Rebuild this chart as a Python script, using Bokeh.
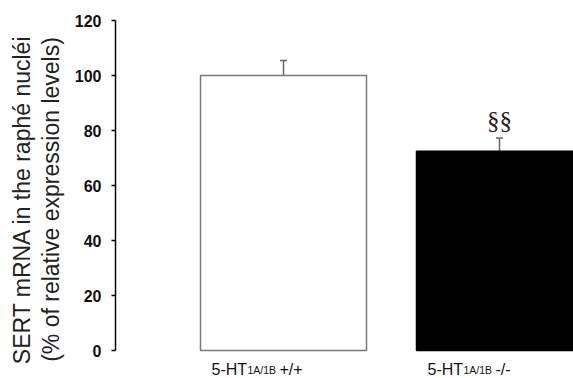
from bokeh.plotting import figure
from bokeh.models import Range1d, FixedTicker, ColumnDataSource, Whisker, TeeHead
from bokeh.core.properties import value
from bokeh.embed import file_html
from bokeh.resources import INLINE

# data
groups = ["+/+", "-/-"]
positions = [1, 2]
means = [100.0, 72.5]
sems = [5.5, 4.8]
fills = ["white", "black"]
outlines = ["#7a7a7a", "black"]
sig_marks = ["", "§§"]
y_ticks = [0, 20, 40, 60, 80, 100, 120]
label_prefix = "5-HT"
label_sub = "1A/1B"

p = figure(width=573, height=378, output_backend="svg", toolbar_location=None,
           x_range=Range1d(0.2222, 2.3426), y_range=Range1d(-10.18, 120),
           min_border_left=115, min_border_right=0, min_border_top=20, min_border_bottom=0)
p.outline_line_color = None
p.grid.visible = False
p.xaxis.visible = False

src = ColumnDataSource(dict(x=positions, top=means, fill=fills, line=outlines,
                            upper=[m + s for m, s in zip(means, sems)], sig=sig_marks,
                            zero=[0] * len(positions),
                            pre=[label_prefix] * len(positions),
                            sub=[label_sub] * len(positions),
                            geno=groups))
p.vbar(x="x", top="top", width=0.7685, bottom=0, source=src,
       fill_color="fill", line_color="line", line_width=1.5)

w = Whisker(base="x", upper="upper", lower="top", source=src,
            line_color="#666666", line_width=1.5,
            upper_head=TeeHead(size=7, line_color="#666666", line_width=1.5),
            lower_head=None)
p.add_layout(w)

p.text(x="x", y="upper", text="sig", source=src, text_align="center",
       text_baseline="alphabetic", y_offset=-17,
       text_font=value("Liberation Serif"), text_font_size="25px", text_color="#222222")

# x category labels with subscript
for col, size, dx in [("pre", "16px", 0), ("sub", "10.5px", 36), ("geno", "16px", 68)]:
    p.text(x="x", y="zero", text=col, source=src, x_offset=-72 + dx, y_offset=19,
           text_align="left", text_baseline="alphabetic",
           text_font=value("Liberation Sans"), text_font_size=size, text_color="#111111")

ax = p.yaxis[0]
ax.bounds = (0, 120)
ax.ticker = FixedTicker(ticks=y_ticks)
ax.major_tick_in = 0
ax.major_tick_out = 4
ax.minor_tick_line_color = None
ax.axis_line_width = 1.5
ax.major_tick_line_width = 1.5
ax.axis_line_color = "black"
ax.major_label_text_font = "Liberation Sans"
ax.major_label_text_font_style = "bold"
ax.major_label_text_font_size = "16px"
ax.major_label_text_color = "#111111"
ax.major_label_standoff = 10
ax.axis_label = "SERT mRNA in the raphé nucléi\n(% of relative expression levels)"
ax.axis_label_text_font = "Liberation Sans"
ax.axis_label_text_font_style = "normal"
ax.axis_label_text_font_size = "23px"
ax.axis_label_text_line_height = 1.1
ax.axis_label_text_color = "#222222"
ax.axis_label_standoff = 8

open("out.html", "w").write(file_html(p, INLINE))
